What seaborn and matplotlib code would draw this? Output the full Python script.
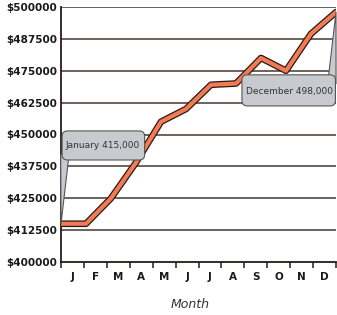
import numpy as np
import pandas as pd
import matplotlib
matplotlib.use("Agg")
import matplotlib.pyplot as plt
import matplotlib.patheffects as pe
from matplotlib.patches import FancyBboxPatch
import seaborn as sns

months = ["J", "F", "M", "A", "M", "J", "J", "A", "S", "O", "N", "D"]
month_names = ["January", "February", "March", "April", "May", "June", "July",
               "August", "September", "October", "November", "December"]
sales = [415000, 415000, 425000, 439000, 455000, 460000, 469500, 470000,
         480000, 475000, 489500, 498000]
y_ticks = [400000, 412500, 425000, 437500, 450000, 462500, 475000, 487500, 500000]

sns.set_theme(style="white")
plt.rcParams["font.family"] = ["DejaVu Sans"]

df = pd.DataFrame({"idx": np.arange(len(months)), "sales": sales})

fig = plt.figure(figsize=(3.37, 3.15), dpi=100)
ax = fig.add_axes([61 / 337, 1 - 262 / 315, 275 / 337, 255 / 315])

grid_color = "#4a3530"
for v in y_ticks[1:]:
    ax.axhline(v, color=grid_color, lw=1.1, zorder=1)

sns.lineplot(data=df, x="idx", y="sales", ax=ax, color="#f27b55", lw=3.0,
             zorder=3,
             path_effects=[pe.Stroke(linewidth=4.8, foreground="#2a1a15"), pe.Normal()])

n = len(months)
ax.set_xlim(0, n - 1)
ax.set_ylim(y_ticks[0], y_ticks[-1])

span = n - 1
edges = [k * span / n for k in range(n + 1)]
centers = [(k + 0.5) * span / n for k in range(n)]
ax.set_xticks(edges)
ax.set_xticklabels([])
ax.set_xticks(centers, minor=True)
ax.set_xticklabels(months, minor=True, fontweight="bold", fontsize=7.5, color="#1a1a1a")
ax.tick_params(axis="x", which="major", direction="out", length=4, width=1.1,
               color="#2a1a15", bottom=True)
ax.tick_params(axis="x", which="minor", length=0, pad=7.5)

ax.set_yticks(y_ticks)
ax.set_yticklabels([f"${v}" for v in y_ticks], fontweight="bold", fontsize=7.5, color="#1a1a1a")
ax.tick_params(axis="y", length=0, pad=3)

ax.set_xlabel("Month", fontstyle="italic", fontsize=9, color="#333333")
ax.xaxis.set_label_coords(0.47, -0.14)
ax.set_ylabel("")

for s in ["top", "right"]:
    ax.spines[s].set_visible(False)
for s in ["left", "bottom"]:
    ax.spines[s].set_color("#2a1a15")
    ax.spines[s].set_linewidth(1.3)

box_fc = "#c9cacf"
box_ec = "#555555"

# January callout
ax.annotate("", xy=(0, sales[0]), xycoords="data",
            xytext=(0.014, 0.42), textcoords="axes fraction",
            arrowprops=dict(arrowstyle="wedge,tail_width=0.5,shrink_factor=0.5",
                            fc=box_fc, ec=box_ec, lw=0.8, shrinkA=0, shrinkB=0),
            zorder=5, annotation_clip=False)
ax.add_patch(FancyBboxPatch((0.004, 0.40), 0.30, 0.114,
                            boxstyle="round,pad=0,rounding_size=0.02",
                            transform=ax.transAxes, fc=box_fc, ec=box_ec, lw=0.8,
                            zorder=6, clip_on=False))
ax.text(0.152, 0.455, f"{month_names[0]} {sales[0]:,}", transform=ax.transAxes,
        ha="center", va="center", fontsize=6.5, color="#333333", zorder=7)

# December callout
ax.annotate("", xy=(n - 1, sales[-1]), xycoords="data",
            xytext=(0.985, 0.70), textcoords="axes fraction",
            arrowprops=dict(arrowstyle="wedge,tail_width=0.5,shrink_factor=0.5",
                            fc=box_fc, ec=box_ec, lw=0.8, shrinkA=0, shrinkB=0),
            zorder=5, annotation_clip=False)
ax.add_patch(FancyBboxPatch((0.658, 0.612), 0.34, 0.122,
                            boxstyle="round,pad=0,rounding_size=0.02",
                            transform=ax.transAxes, fc=box_fc, ec=box_ec, lw=0.8,
                            zorder=6, clip_on=False))
ax.text(0.83, 0.67, f"{month_names[-1]} {sales[-1]:,}", transform=ax.transAxes,
        ha="center", va="center", fontsize=6.5, color="#333333", zorder=7)

fig.savefig("out.png", dpi=100)
